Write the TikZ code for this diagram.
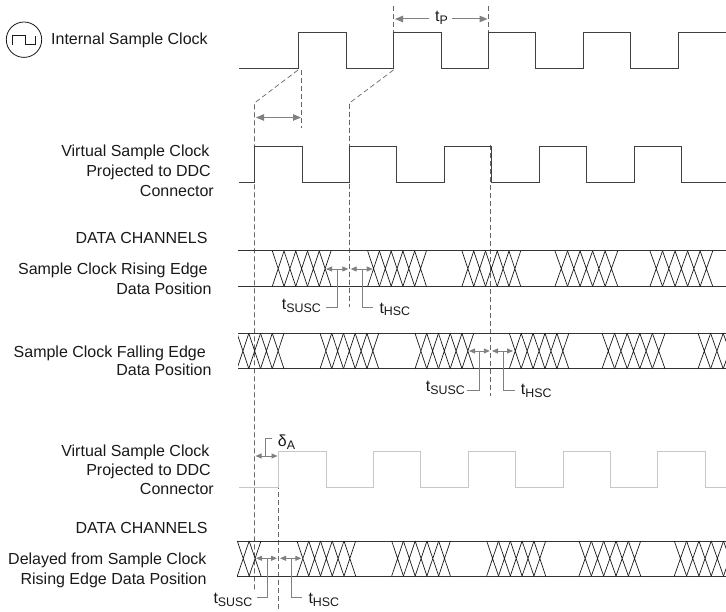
\documentclass[tikz,border=0pt]{standalone}
\usepackage{fontspec}
\setmainfont{Liberation Sans}
\usetikzlibrary{arrows.meta}
\tikzset{
  x=1pt,y=-1pt,
  wave/.style={line width=1pt,draw=black!75,line join=miter},
  lightwave/.style={line width=1pt,draw=black!22},
  rail/.style={line width=1pt,draw=black!80},
  hatch/.style={line width=0.7pt,draw=black!90},
  guide/.style={line width=0.7pt,draw=black!60,dash pattern=on 5pt off 3pt},
  leader/.style={line width=0.9pt,draw=black!50},
  span/.style={line width=0.9pt,draw=black!50,{Triangle[length=6pt,width=5pt]}-{Triangle[length=6pt,width=5pt]}},
  spanr/.style={line width=1pt,draw=black!50,-{Triangle[length=8pt,width=6.5pt]}},
  lab/.style={inner sep=0pt,font=\fontsize{16}{16}\selectfont,text=black!90,anchor=base east},
  tim/.style={inner sep=0pt,font=\fontsize{16}{16}\selectfont,text=black!90,anchor=base west}
}
\newcommand{\tsub}[1]{t\raisebox{-2.7pt}{\fontsize{12.4}{12.4}\selectfont #1}}
% \xcluster{x0}{pitch}{n}{ytop}{ybot}
\newcommand{\xcluster}[5]{%
  \foreach \ii in {1,...,#3}{%
    \pgfmathsetmacro{\xa}{#1+(\ii-1)*#2}%
    \pgfmathsetmacro{\xb}{#1+\ii*#2}%
    \draw[hatch] (\xa,#4) -- (\xb,#5) (\xb,#4) -- (\xa,#5);%
  }}
\begin{document}
\begin{tikzpicture}
\useasboundingbox (0,0) rectangle (726,612);
% guides
\draw[guide] (301.7,70) -- (301.7,128);
\draw[guide] (298,70) -- (254.5,103) -- (254.5,590);
\draw[guide] (393.5,70) -- (349.5,103) -- (349.5,307);
\draw[guide] (393.5,6) -- (393.5,33);
\draw[guide] (488.7,6) -- (488.7,33);
\draw[guide] (490.8,145) -- (490.8,396);
\draw[guide] (278.5,452) -- (278.5,612);
% waveforms
\draw[wave] (239,69) -| (298.5,33) -| (346,69) -| (393.5,33) -| (441,69) -| (488.7,33) -| (535.7,69) -| (583.3,33) -| (630.7,69) -| (678.3,33) -- (726,33);
\draw[wave] (239,183) -| (254.5,147) -| (302,183) -| (349.5,147) -| (396.7,183) -| (444,147) -| (491.3,183) -| (539,147) -| (586.6,183) -| (634,147) -| (681.4,183) -- (726,183);
\draw[lightwave] (239,487) -| (278.5,451.7) -| (326,487) -| (373.3,451.7) -| (420.7,487) -| (468,451.7) -| (515.7,487) -| (563,451.7) -| (610.7,487) -| (657.7,451.7) -| (705.7,487) -- (726,487);
% rails
\draw[rail] (238,251) -- (726,251); \draw[rail] (238,286.3) -- (726,286.3);
\draw[rail] (238,333.3) -- (726,333.3); \draw[rail] (238,368.7) -- (726,368.7);
\draw[rail] (237,541) -- (726,541); \draw[rail] (237,576) -- (726,576);
% hatch clusters
\xcluster{272.3}{11.74}{5}{251}{286.3}
\xcluster{367.7}{11.74}{5}{251}{286.3}
\xcluster{462}{11.74}{5}{251}{286.3}
\xcluster{555}{12.54}{5}{251}{286.3}
\xcluster{650}{12.54}{5}{251}{286.3}
\begin{scope}
\clip (238,330) rectangle (726,372);
\xcluster{225.3}{11.74}{5}{333.3}{368.7}
\xcluster{320}{11.74}{5}{333.3}{368.7}
\xcluster{415}{11.74}{5}{333.3}{368.7}
\xcluster{509.3}{11.9}{5}{333.3}{368.7}
\xcluster{602}{12.6}{5}{333.3}{368.7}
\xcluster{698}{12.6}{3}{333.3}{368.7}
\end{scope}
\begin{scope}
\clip (236,538) rectangle (726,579);
\xcluster{237.3}{11.85}{2}{541}{576}
\xcluster{297}{11.74}{5}{541}{576}
\xcluster{391.7}{11.74}{5}{541}{576}
\xcluster{486.7}{11.8}{5}{541}{576}
\xcluster{579}{12.34}{5}{541}{576}
\xcluster{674.3}{12.3}{5}{541}{576}
\end{scope}
% clock symbol
\draw[line width=0.8pt,black!90] (24,39.7) circle (17.7);
\draw[line width=0.8pt,black!90] (12.3,45) -- (12.3,35.7) -- (25,35.7) -- (25,44.3) -- (35.7,44.3) -- (35.7,36);
% labels
\node[tim] (isc) at (51,45) {Internal Sample Clock};
\node[lab] (v1) at (209.7,157) {Virtual Sample Clock};
\node[lab] (v2) at (211,176.7) {Projected to DDC};
\node[lab] (v3) at (214,196.7) {Connector};
\node[lab] (dc1) at (207.7,243.3) {DATA CHANNELS};
\node[lab] (r1) at (207.7,274.3) {Sample Clock Rising Edge};
\node[lab] (r2) at (211.7,294.3) {Data Position};
\node[lab] (f1) at (206,357.3) {Sample Clock Falling Edge};
\node[lab] (f2) at (211.7,376) {Data Position};
\node[lab] (w1) at (209.7,456) {Virtual Sample Clock};
\node[lab] (w2) at (211,475) {Projected to DDC};
\node[lab] (w3) at (214,494.3) {Connector};
\node[lab] (dc2) at (207.7,533.3) {DATA CHANNELS};
\node[lab] (d1) at (206.7,564) {Delayed from Sample Clock};
\node[lab] (d2) at (206.7,584) {Rising Edge Data Position};
% timing labels
\node[tim] (tp) at (435,21.8) {\tsub{P}};
\node[tim] (s1) at (281.7,310) {\tsub{SUSC}};
\node[tim] (h1) at (379.3,313.3) {\tsub{HSC}};
\node[tim] (s2) at (425.7,391.7) {\tsub{SUSC}};
\node[tim] (h2) at (520.7,395) {\tsub{HSC}};
\node[tim] (s3) at (213.3,603.3) {\tsub{SUSC}};
\node[tim] (h3) at (308.3,603.3) {\tsub{HSC}};
\node[tim] (da) at (277.7,446.3) {δ\raisebox{-2.7pt}{\fontsize{12.4}{12.4}\selectfont A}};
% arrows
\draw[spanr] (429,19) -- (395,19);
\draw[spanr] (452,19) -- (487.5,19);
\draw[spanr,{Triangle[length=8pt,width=6.5pt]}-{Triangle[length=8pt,width=6.5pt]}] (256,117.5) -- (301,117.5);
\draw[span] (326,269) -- (348.3,269);
\draw[span] (350.7,269) -- (372.7,269);
\draw[span] (469,351) -- (489.8,351);
\draw[span] (492,351) -- (513,351);
\draw[span] (256,558.3) -- (277,558.3);
\draw[span] (280,558.3) -- (301.3,558.3);
\draw[span] (255.5,456) -- (277.5,456);
% leaders
\draw[leader] (337.3,269) -- (337.3,307.7) -- (326,307.7);
\draw[leader] (362,269) -- (362,307.7) -- (372.7,307.7);
\draw[leader] (479.3,351) -- (479.3,390.7) -- (467.3,390.7);
\draw[leader] (503.3,351) -- (503.3,390.4) -- (514.7,390.4);
\draw[leader] (267.7,558.3) -- (267.7,597.7) -- (256.7,597.7);
\draw[leader] (291,558.3) -- (291,597.7) -- (302.3,597.7);
\draw[leader] (265.7,456) -- (265.7,438) -- (271.7,438);
\end{tikzpicture}
\end{document}
